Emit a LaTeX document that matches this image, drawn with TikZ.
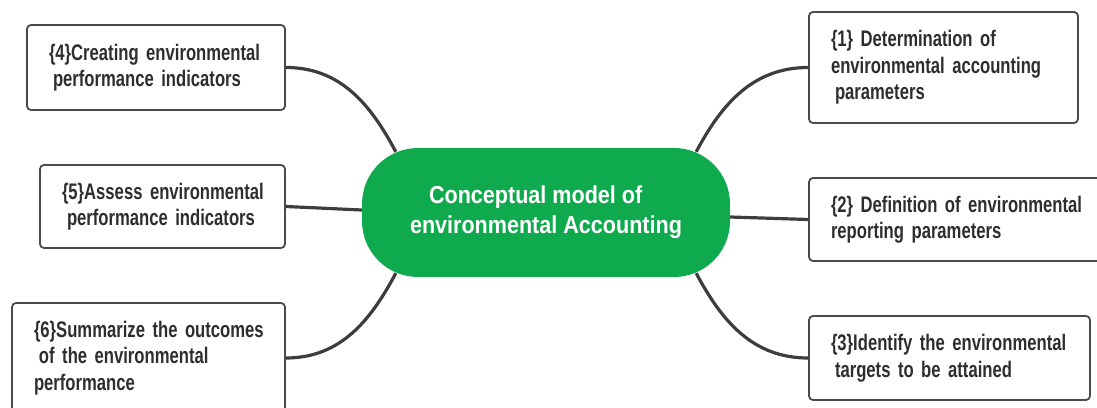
\documentclass[tikz,border=0pt]{standalone}
\usepackage{fontspec}
\usetikzlibrary{backgrounds}
\newfontfamily\boxfont{Liberation Sans}[FakeStretch=0.74]
\newfontfamily\hubfont{Liberation Sans}[FakeStretch=0.88]
\newcommand\boxtextstyle{\boxfont\bfseries\fontsize{22.5}{26.5}\selectfont
  \spaceskip=4.6pt plus 1pt\relax}
\definecolor{hubgreen}{HTML}{10AA4E}
\definecolor{ink}{HTML}{2E2E2E}
\definecolor{boxline}{HTML}{4A4A4A}
\definecolor{wire}{HTML}{3D3D3D}
\begin{document}
\begin{tikzpicture}[x=1pt,y=1pt,
  item/.style={draw=boxline, line width=1.8pt, rounded corners=4pt, fill=white,
    text=ink, font=\boxtextstyle,
    align=left, inner xsep=22pt, inner ysep=0pt, anchor=center},
  hub/.style={fill=hubgreen, rounded corners=56pt, text=white,
    font=\hubfont\bfseries\fontsize{24.5}{30}\selectfont, align=left,
    minimum width=368pt, minimum height=129pt, inner sep=0pt},
  link/.style={draw=wire, line width=3.2pt}]
\useasboundingbox (0,0) rectangle (1097,407);

% central topic
\node[hub] (hub) at (546,194.5) {\hspace*{19pt}Conceptual model of\\environmental Accounting};

% left branches
\node[item, text width=214pt, minimum height=85pt] (b4) at (156,339.5)
  {\mbox{\{4\}Creating environmental}\\\mbox{\hspace*{4pt}performance indicators}};
\node[item, text width=201pt, minimum height=83pt] (b5) at (162.5,200.5)
  {\mbox{\{5\}Assess environmental}\\\mbox{\hspace*{5pt}performance indicators}};
\node[item, text width=229pt, minimum height=110pt] (b6) at (148.5,49)
  {\mbox{\{6\}Summarize the outcomes}\\\mbox{\hspace*{5pt}of the environmental}\\\mbox{performance}};

% right branches
\node[item, text width=225pt, minimum height=111pt] (b1) at (943.5,339.5)
  {\mbox{\{1\} Determination of}\\\mbox{environmental accounting}\\\mbox{\hspace*{4pt}parameters}};
\node[item, text width=257pt, minimum height=83pt] (b2) at (959.5,187.5)
  {\mbox{\{2\} Definition of environmental}\\\mbox{reporting parameters}};
\node[item, text width=237pt, minimum height=84pt] (b3) at (949.5,49)
  {\mbox{\{3\}Identify the environmental}\\\mbox{\hspace*{4pt}targets to be attained}};

% connectors
\begin{scope}[on background layer]
  \draw[link] (b4.east) to[out=0,in=118] ([shift={(34,-4)}]hub.north west);
  \draw[link] (b5.east) -- ([yshift=2.5pt]hub.west);
  \draw[link] (b6.east) to[out=0,in=-118] ([shift={(34,4)}]hub.south west);
  \draw[link] (b1.west) to[out=180,in=62] ([shift={(-34,-4)}]hub.north east);
  \draw[link] (b2.west) -- ([yshift=-4.5pt]hub.east);
  \draw[link] (b3.west) to[out=180,in=-62] ([shift={(-34,4)}]hub.south east);
\end{scope}
\end{tikzpicture}
\end{document}
